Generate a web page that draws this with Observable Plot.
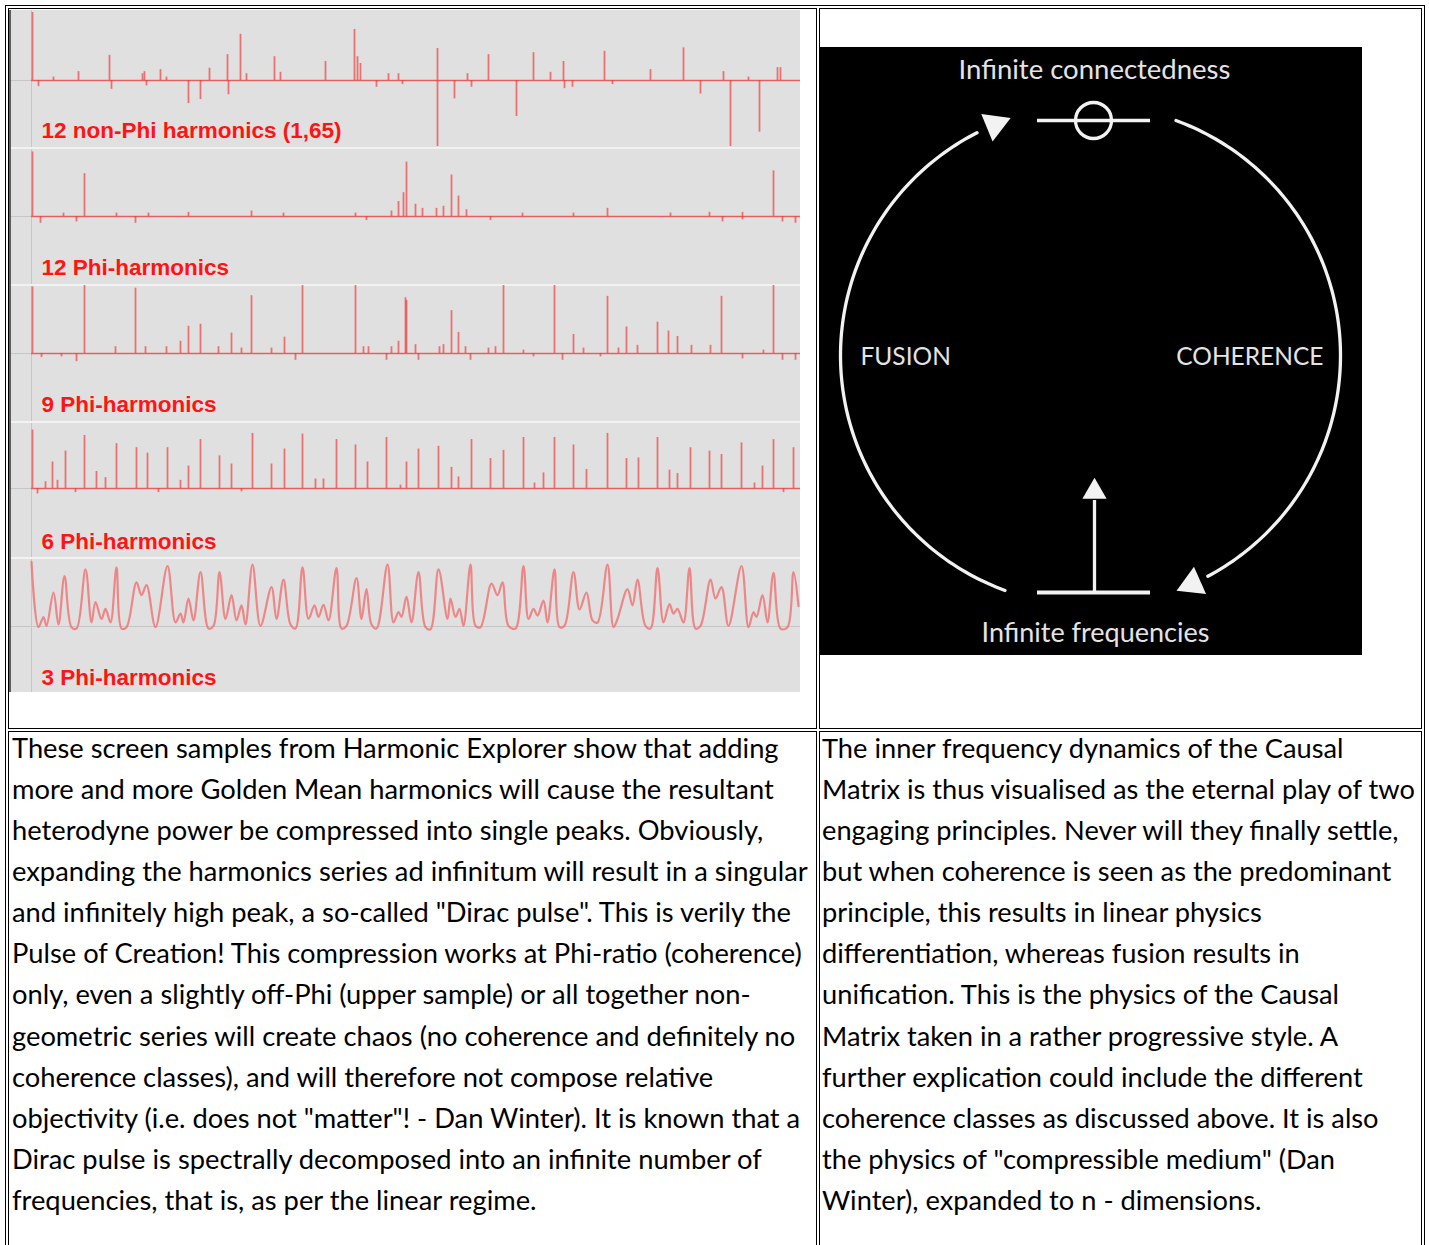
<!DOCTYPE html>
<html><head><meta charset="utf-8">
<script src="https://cdn.jsdelivr.net/npm/d3@7"></script>
<script src="https://cdn.jsdelivr.net/npm/@observablehq/plot@0.6"></script>
<style>
html,body{margin:0;padding:0;background:#fff;}
body{width:1429px;height:1245px;overflow:hidden;position:relative;}
.box{position:absolute;border:1px solid #000;box-sizing:border-box;}
.abs{position:absolute;}
.txt{position:absolute;font-family:Lato,"Open Sans",sans-serif;color:#000;line-height:41.1px;}
.txt span{display:block;white-space:nowrap;width:max-content;}
</style></head>
<body>
<div class="box" style="left:5px;top:5px;width:1420px;height:1262px"></div>
<div class="box" style="left:8px;top:8px;width:809px;height:721px"></div>
<div class="box" style="left:819px;top:8px;width:603px;height:721px"></div>
<div class="box" style="left:8px;top:731px;width:809px;height:540px"></div>
<div class="box" style="left:819px;top:731px;width:603px;height:540px"></div>
<div id="left" class="abs" style="left:10px;top:10px;width:790px;height:682px;background:#f2f2f2"></div>
<div class="abs" style="left:9px;top:10px;width:2px;height:682px;background:#5e5e5e"></div>
<div id="right" class="abs" style="left:820px;top:47px;width:542px;height:608px"></div>
<div id="textL" class="txt" style="left:12px;top:728px"></div>
<div id="textR" class="txt" style="left:822px;top:728px"></div>
<script>
// ---------- data ----------
const stripLabels = ["12 non-Phi harmonics (1,65)", "12 Phi-harmonics", "9 Phi-harmonics", "6 Phi-harmonics", "3 Phi-harmonics"];

// [frequency bin, relative amplitude]
const nonPhi12 = [[1,1.0],[7,-0.09],[22,0.05],[47,0.13],[78,0.37],[80,-0.13],[111,0.1],[113,0.13],[115,-0.08],[129,0.16],[135,0.05],[157,-0.34],[169,-0.28],[178,0.18],[196,0.38],[197,-0.21],[209,0.68],[215,0.1],[243,0.35],[249,0.12],[294,0.28],[323,0.75],[326,0.35],[329,0.25],[345,-0.1],[357,0.1],[367,0.1],[371,-0.06],[406,0.47],[406,-0.97],[423,-0.27],[436,0.1],[440,-0.1],[457,0.38],[485,-0.53],[502,0.41],[519,0.12],[532,0.28],[533,-0.12],[541,-0.1],[573,0.43],[581,-0.06],[619,0.16],[652,0.48],[669,-0.2],[692,0.13],[699,-0.97],[717,0.05],[728,-0.76],[746,0.19],[749,0.19]];
const phi12 = [[1,0.95],[9,-0.1],[32,0.05],[45,-0.08],[53,0.63],[85,0.05],[104,-0.1],[117,0.05],[157,0.06],[220,0.08],[252,0.05],[324,0.05],[335,-0.06],[360,0.08],[367,0.22],[372,0.35],[375,0.8],[384,0.18],[391,0.12],[405,0.12],[412,0.15],[420,0.61],[427,0.3],[435,0.1],[459,-0.06],[491,0.05],[542,0.05],[576,0.12],[639,0.05],[678,0.06],[691,-0.08],[711,0.06],[711,-0.05],[742,0.67],[751,-0.08],[764,-0.1]];
const phi9 = [[1,0.98],[10,-0.06],[30,-0.05],[45,-0.12],[53,1.0],[84,0.1],[104,0.96],[114,0.1],[135,0.1],[149,0.18],[157,0.4],[169,0.43],[187,0.1],[200,0.3],[210,0.08],[220,0.85],[240,0.08],[253,0.24],[264,-0.1],[271,1.0],[324,1.0],[332,0.1],[337,0.1],[355,-0.1],[360,0.1],[367,0.18],[374,0.82],[375,0.78],[384,0.13],[387,-0.1],[408,0.1],[412,0.13],[420,0.63],[427,0.31],[434,0.1],[439,-0.1],[457,0.08],[464,0.1],[472,1.0],[492,0.05],[502,-0.05],[523,1.0],[531,-0.1],[542,0.28],[552,0.08],[569,-0.05],[576,0.84],[587,0.08],[595,0.39],[606,0.12],[626,0.46],[637,0.33],[646,0.25],[660,0.12],[679,0.12],[690,0.84],[711,-0.08],[732,0.05],[742,1.0],[751,-0.1],[764,-0.1]];
const phi6 = [[1,0.86],[6,-0.08],[14,0.1],[21,0.39],[26,0.12],[34,0.55],[44,-0.06],[53,0.78],[65,0.25],[74,0.16],[85,0.66],[105,0.6],[116,0.52],[127,-0.06],[136,0.6],[149,0.12],[157,0.33],[169,0.72],[188,0.48],[200,0.36],[210,-0.05],[221,0.81],[240,0.36],[253,0.58],[271,0.8],[284,0.14],[292,0.14],[305,0.72],[324,0.64],[336,0.39],[355,0.75],[369,0.05],[375,0.39],[387,0.58],[407,0.62],[420,0.31],[427,0.17],[440,0.72],[459,0.44],[472,0.56],[492,0.75],[503,0.08],[512,0.23],[523,0.75],[542,0.64],[555,0.28],[576,0.81],[595,0.44],[607,0.45],[626,0.75],[638,0.27],[646,0.22],[659,0.6],[678,0.55],[690,0.5],[710,0.67],[723,0.08],[731,0.33],[742,0.72],[752,-0.06],[762,0.6]];
const phi3 = [[0,0.95],[7,-0.01],[12,0.14],[15,0.01],[22,0.5],[27,0.03],[33,0.74],[40,-0.01],[45,-0.03],[54,0.84],[60,0.06],[64,0.36],[70,0.11],[74,0.26],[79,0.06],[85,0.87],[90,-0.03],[95,-0.01],[105,0.65],[110,0.46],[115,0.61],[124,-0.01],[136,0.89],[144,0.06],[149,0.19],[152,0.06],[157,0.41],[162,0.09],[169,0.8],[177,-0.03],[182,0.01],[188,0.8],[194,0.11],[200,0.46],[205,0.09],[210,0.31],[214,0.03],[221,0.91],[229,0.01],[240,0.58],[245,0.11],[252,0.69],[259,0.03],[264,-0.03],[271,0.87],[277,0.11],[283,0.31],[287,0.14],[292,0.32],[297,0.09],[305,0.86],[310,-0.03],[315,0.01],[325,0.71],[330,0.11],[335,0.55],[340,0.03],[345,-0.03],[356,0.91],[362,0.06],[367,0.21],[370,0.14],[375,0.44],[380,0.06],[387,0.8],[394,-0.01],[399,-0.04],[407,0.84],[416,0.11],[419,0.41],[424,0.14],[428,0.26],[432,0.01],[439,0.91],[444,0.01],[449,-0.01],[460,0.63],[466,0.46],[471,0.65],[477,0.01],[484,-0.03],[492,0.89],[497,0.11],[502,0.26],[506,0.16],[512,0.38],[516,0.06],[523,0.84],[528,-0.01],[533,0.01],[542,0.8],[548,0.25],[555,0.5],[561,0.09],[566,0.06],[576,0.91],[582,-0.01],[586,0.11],[596,0.55],[601,0.31],[606,0.69],[614,0.01],[619,-0.03],[626,0.86],[632,0.06],[638,0.33],[642,0.19],[646,0.26],[652,0.06],[658,0.86],[664,-0.03],[669,0.01],[679,0.69],[684,0.41],[690,0.58],[697,0.01],[710,0.89],[717,-0.01],[722,0.21],[725,0.14],[731,0.46],[736,0.06],[742,0.79],[749,-0.03],[756,-0.01],[762,0.8],[767,0.3]];

const diagramLabels = ["Infinite connectedness", "FUSION", "COHERENCE", "Infinite frequencies"];

const captionLeft = [
 "These screen samples from Harmonic Explorer show that adding",
 "more and more Golden Mean harmonics will cause the resultant",
 "heterodyne power be compressed into single peaks. Obviously,",
 "expanding the harmonics series ad infinitum will result in a singular",
 "and infinitely high peak, a so-called \"Dirac pulse\". This is verily the",
 "Pulse of Creation! This compression works at Phi-ratio (coherence)",
 "only, even a slightly off-Phi (upper sample) or all together non-",
 "geometric series will create chaos (no coherence and definitely no",
 "coherence classes), and will therefore not compose relative",
 "objectivity (i.e. does not \"matter\"! - Dan Winter). It is known that a",
 "Dirac pulse is spectrally decomposed into an infinite number of",
 "frequencies, that is, as per the linear regime."
];
const captionRight = [
 "The inner frequency dynamics of the Causal",
 "Matrix is thus visualised as the eternal play of two",
 "engaging principles. Never will they finally settle,",
 "but when coherence is seen as the predominant",
 "principle, this results in linear physics",
 "differentiation, whereas fusion results in",
 "unification. This is the physics of the Causal",
 "Matrix taken in a rather progressive style. A",
 "further explication could include the different",
 "coherence classes as discussed above. It is also",
 "the physics of \"compressible medium\" (Dan",
 "Winter), expanded to n - dimensions."
];

// ---------- left panel: five spectra ----------
const RED = "#f03535";
const series = [nonPhi12, phi12, phi9, phi6, phi3];
const tops = [0, 139, 276, 413, 549];
const heights = [137, 135, 135, 134, 133];
const baselines = [70, 67, 67, 65, 67];
const left = document.getElementById("left");
series.forEach((s, i) => {
  const h = heights[i];
  const b = baselines[i];
  const unit = 68;
  const marks = [
    Plot.ruleY([0], {stroke: "#c6c6c6", strokeWidth: 1}),
    Plot.ruleX([0], {stroke: "#c6c6c6", strokeWidth: 1})
  ];
  if (i < 4) {
    marks.push(Plot.ruleY([0], {x1: 0, x2: 769, stroke: RED, strokeOpacity: 0.7, strokeWidth: 1.3}));
    marks.push(Plot.ruleX(s, {x: d => d[0], y1: 0, y2: d => d[1], stroke: RED, strokeWidth: 1.8, strokeOpacity: 0.65}));
  } else {
    marks.push(Plot.line(s, {x: d => d[0], y: d => d[1], curve: "catmull-rom", stroke: "#f07070", strokeWidth: 2.2, strokeOpacity: 0.8}));
  }
  marks.push(Plot.text([stripLabels[i]], {frameAnchor: "top-left", dx: 31, dy: 110 + (i === 0 ? 2 : 0), fontSize: 22.5, fontWeight: "bold", fill: "#ff1414", fontFamily: "Liberation Sans, Arial, sans-serif", lineAnchor: "top", letterSpacing: "-0.3px"}));
  const p = Plot.plot({
    width: 790, height: h, margin: 0,
    x: {domain: [-21, 769], axis: null},
    y: {domain: [-(h - b) / unit, b / unit], axis: null},
    style: {background: "#e0e0e0", overflow: "visible"},
    marks
  });
  p.style.position = "absolute";
  p.style.left = "0px";
  p.style.top = tops[i] + "px";
  left.appendChild(p);
});

// ---------- right panel: causal matrix diagram ----------
const R = 250;
function arcPoints(a0, a1) {
  const n = 120, pts = [];
  for (let k = 0; k <= n; k++) {
    const a = (a0 + (a1 - a0) * k / n) * Math.PI / 180;
    pts.push({x: Math.cos(a), y: Math.sin(a)});
  }
  return pts;
}
function head(a) {
  const r = a * Math.PI / 180;
  return {x: Math.cos(r), y: Math.sin(r), rot: Math.atan2(Math.sin(r), -Math.cos(r)) * 180 / Math.PI};
}
const W = "#f2f2f2";
const font = {fill: "#e4e4e4", fontFamily: "Lato, sans-serif", letterSpacing: "-0.7px"};
const diag = Plot.plot({
  width: 542, height: 608, margin: 0,
  x: {domain: [-270 / R, 272 / R], axis: null},
  y: {domain: [-300 / R, 308 / R], axis: null},
  style: {background: "#000", overflow: "visible"},
  marks: [
    Plot.line(arcPoints(250, 117), {x: "x", y: "y", stroke: W, strokeWidth: 3.3}),
    Plot.line(arcPoints(70, -62), {x: "x", y: "y", stroke: W, strokeWidth: 3.3}),
    Plot.dot([head(112.5), head(-66)], {x: "x", y: "y", rotate: "rot", symbol: "triangle", r: 11, fill: W, stroke: null}),
    Plot.ruleY([0.94], {x1: -0.212, x2: 0.24, stroke: W, strokeWidth: 3.3}),
    Plot.dot([{x: 0.012, y: 0.94}], {x: "x", y: "y", r: 18, stroke: W, strokeWidth: 3.3, fill: "none"}),
    Plot.ruleY([-0.948], {x1: -0.212, x2: 0.24, stroke: W, strokeWidth: 3.8}),
    Plot.ruleX([0.016], {y1: -0.948, y2: -0.58, stroke: W, strokeWidth: 3.3}),
    Plot.dot([{x: 0.016, y: -0.545, rot: 0}], {x: "x", y: "y", rotate: "rot", symbol: "triangle", r: 9, fill: W, stroke: null}),
    Plot.text([diagramLabels[0]], {x: 0.016, y: 1.14, fontSize: 27.5, ...font}),
    Plot.text([diagramLabels[1]], {x: -0.92, y: -0.008, textAnchor: "start", fontSize: 24.5, ...font}),
    Plot.text([diagramLabels[2]], {x: 0.932, y: -0.008, textAnchor: "end", fontSize: 24.5, ...font}),
    Plot.text([diagramLabels[3]], {x: 0.02, y: -1.112, fontSize: 27, ...font})
  ]
});
document.getElementById("right").appendChild(diag);

// ---------- captions ----------
function fill(id, lines, target) {
  const el = document.getElementById(id);
  lines.forEach(t => { const s = document.createElement("span"); s.textContent = t; el.appendChild(s); });
  el.style.fontSize = "100px";
  const w = Math.max(...[...el.children].map(c => c.getBoundingClientRect().width));
  const fs = 100 * target / w;
  el.style.fontSize = fs + "px";
  const top = 758 - ((41.1 - 1.2 * fs) / 2 + 0.987 * fs);
  el.style.top = top + "px";
}
fill("textL", captionLeft, 796);
fill("textR", captionRight, 593);
</script>
</body></html>
